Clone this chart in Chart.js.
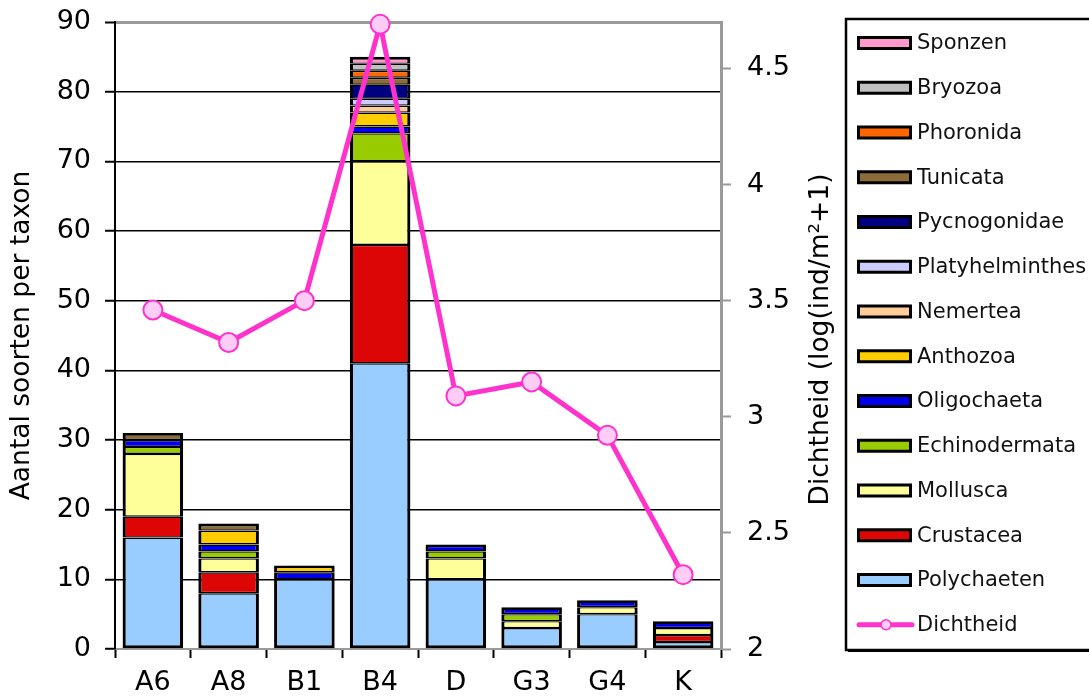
<!DOCTYPE html>
<html>
<head>
<meta charset="utf-8">
<script src="https://cdn.jsdelivr.net/npm/chart.js@4"></script>
<style>
  html, body { margin: 0; padding: 0; background: #fff; overflow: hidden; }
  #wrap { position: relative; width: 1089px; height: 698px; }
</style>
</head>
<body>
<div id="wrap"><canvas id="c"></canvas></div>
<script>
// Stations along the x axis
const stations = ['A6', 'A8', 'B1', 'B4', 'D', 'G3', 'G4', 'K'];

// Number of species per taxon and station (stacked bottom to top)
const polychaeten     = [16, 8, 10, 41, 10, 3, 5, 1];
const crustacea       = [3, 3, 0, 17, 0, 0, 0, 1];
const mollusca        = [9, 2, 0, 12, 3, 1, 1, 1];
const echinodermata   = [1, 1, 0, 4, 1, 1, 0, 0];
const oligochaeta     = [1, 1, 1, 1, 1, 1, 1, 1];
const anthozoa        = [0, 2, 1, 2, 0, 0, 0, 0];
const nemertea        = [0, 0, 0, 1, 0, 0, 0, 0];
const platyhelminthes = [0, 0, 0, 1, 0, 0, 0, 0];
const pycnogonidae    = [0, 0, 0, 2, 0, 0, 0, 0];
const tunicata        = [1, 1, 0, 1, 0, 0, 0, 0];
const phoronida       = [0, 0, 0, 1, 0, 0, 0, 0];
const bryozoa         = [0, 0, 0, 1, 0, 0, 0, 0];
const sponzen         = [0, 0, 0, 1, 0, 0, 0, 0];

// Density, log(ind/m²+1), right axis
const dichtheid = [3.46, 3.32, 3.50, 4.69, 3.09, 3.15, 2.92, 2.32];

const leftTitle = 'Aantal soorten per taxon';
const rightTitle = 'Dichtheid (log(ind/m²+1)';

const FONT = '"DejaVu Sans", Verdana, sans-serif';
const TICK_SIZE = 27;
const TITLE_SIZE = 26.5;

const taxa = [
  ['Polychaeten', polychaeten, '#99CCFF'],
  ['Crustacea', crustacea, '#DD0606'],
  ['Mollusca', mollusca, '#FFFF99'],
  ['Echinodermata', echinodermata, '#99CC00'],
  ['Oligochaeta', oligochaeta, '#0000EE'],
  ['Anthozoa', anthozoa, '#FFCC00'],
  ['Nemertea', nemertea, '#FFCC99'],
  ['Platyhelminthes', platyhelminthes, '#CCCCFF'],
  ['Pycnogonidae', pycnogonidae, '#000080'],
  ['Tunicata', tunicata, '#8C6D3A'],
  ['Phoronida', phoronida, '#FF6600'],
  ['Bryozoa', bryozoa, '#C0C0C0'],
  ['Sponzen', sponzen, '#FF99CC']
];

// Inner separators split between neighbours, thicker outline around each stack
function segmentBorder(ctx) {
  const i = ctx.dataIndex, d = ctx.datasetIndex;
  const ds = ctx.chart.data.datasets;
  let isTop = true;
  for (let k = d + 1; k < ds.length; k++) {
    if (ds[k].type === 'bar' && ds[k].data[i] > 0) { isTop = false; break; }
  }
  return { top: isTop ? 2.8 : 1.4, bottom: d === 0 ? 3 : 1.4, left: 3.2, right: 3.2 };
}

const datasets = taxa.map(([label, values, color]) => ({
  type: 'bar',
  label,
  data: values,
  backgroundColor: color,
  borderColor: '#000',
  borderWidth: segmentBorder,
  borderSkipped: false,
  yAxisID: 'y',
  order: 1,
  categoryPercentage: 0.8,
  barPercentage: 1.0
}));

datasets.push({
  type: 'line',
  label: 'Dichtheid',
  data: dichtheid,
  yAxisID: 'y1',
  borderColor: '#FF33CC',
  borderWidth: 5,
  pointRadius: 9.5,
  pointBackgroundColor: '#FFCCF5',
  pointBorderColor: '#FF33CC',
  pointBorderWidth: 2,
  tension: 0,
  clip: false,
  order: 0
});

// Boxed legend on the right, top item first
const boxedLegend = {
  id: 'boxedLegend',
  afterDraw(chart) {
    const ctx = chart.ctx;
    const x0 = 846, y0 = 19, y1 = 650;
    ctx.save();
    ctx.fillStyle = '#000';
    ctx.fillRect(x0 + 2, y1 - 1, 1089, 3);
    ctx.strokeStyle = '#000';
    ctx.lineWidth = 2.5;
    ctx.strokeRect(x0, y0, 1089, y1 - y0);
    const bars = chart.data.datasets.filter(d => d.type === 'bar').slice().reverse();
    const line = chart.data.datasets.find(d => d.type === 'line');
    const items = bars.concat([line]);
    const step = 44.75;
    ctx.font = '21px ' + FONT;
    ctx.textBaseline = 'middle';
    ctx.textAlign = 'left';
    items.forEach((ds, n) => {
      const cy = 43 + n * step;
      if (ds.type === 'bar') {
        ctx.fillStyle = '#000';
        ctx.fillRect(857, cy - 7, 55, 14);
        ctx.fillStyle = ds.backgroundColor;
        ctx.fillRect(860, cy - 4, 49, 8);
      } else {
        ctx.strokeStyle = ds.borderColor;
        ctx.lineWidth = 5;
        ctx.lineCap = 'round';
        ctx.beginPath();
        ctx.moveTo(859, cy);
        ctx.lineTo(912, cy);
        ctx.stroke();
        ctx.beginPath();
        ctx.arc(886, cy, 5, 0, Math.PI * 2);
        ctx.fillStyle = ds.pointBackgroundColor;
        ctx.fill();
        ctx.lineWidth = 1.5;
        ctx.stroke();
      }
      ctx.fillStyle = '#111';
      ctx.fillText(ds.label, 917, cy + 1);
    });
    ctx.restore();
  }
};

// Right axis title reading bottom to top
const rightAxisTitle = {
  id: 'rightAxisTitle',
  afterDraw(chart) {
    const ctx = chart.ctx;
    const a = chart.chartArea;
    ctx.save();
    ctx.translate(chart.scales.y1.right - 25, (a.top + a.bottom) / 2 + 4);
    ctx.rotate(-Math.PI / 2);
    ctx.font = TITLE_SIZE + 'px ' + FONT;
    ctx.fillStyle = '#000';
    ctx.textAlign = 'center';
    ctx.textBaseline = 'middle';
    ctx.fillText(rightTitle, 0, 0);
    ctx.restore();
  }
};

// Keep the plot area independent of label overhang
function noOverhang(s) {
  s.paddingTop = 0; s.paddingBottom = 0; s.paddingLeft = 0; s.paddingRight = 0;
}

new Chart(document.getElementById('c'), {
  data: { labels: stations, datasets },
  options: {
    responsive: true,
    maintainAspectRatio: false,
    animation: false,
    events: [],
    layout: { padding: { left: 0, top: 22, right: 243, bottom: 0 } },
    plugins: { legend: { display: false }, tooltip: { enabled: false } },
    scales: {
      x: {
        stacked: true,
        afterFit(s) { s.height = 49; noOverhang(s); },
        grid: {
          offset: true,
          drawOnChartArea: false,
          drawTicks: true,
          tickLength: 9,
          tickColor: '#000',
          tickWidth: 2
        },
        border: { display: true, color: '#9a9a9a', width: 2 },
        ticks: { color: '#000', font: { family: FONT, size: TICK_SIZE }, padding: 9 }
      },
      y: {
        stacked: true,
        position: 'left',
        min: 0,
        max: 90,
        afterFit(s) { s.width = 115; noOverhang(s); },
        ticks: { stepSize: 10, color: '#000', font: { family: FONT, size: TICK_SIZE }, padding: 14 },
        grid: {
          color: c => (c.tick && (c.tick.value === 90 || c.tick.value === 0)) ? '#9a9a9a' : '#000',
          lineWidth: c => (c.tick && c.tick.value === 90) ? 3 : 1.5,
          tickColor: '#000',
          tickLength: 10,
          tickWidth: 2
        },
        border: { display: true, color: '#000', width: 2 },
        title: {
          display: true,
          text: leftTitle,
          color: '#000',
          font: { family: FONT, size: TITLE_SIZE },
          padding: { top: 6, bottom: 0 }
        }
      },
      y1: {
        position: 'right',
        min: 2,
        max: 4.7,
        afterFit(s) { s.width = 125; noOverhang(s); },
        afterBuildTicks(s) { s.ticks = s.ticks.filter(t => t.value <= 4.5 + 1e-9); },
        ticks: {
          stepSize: 0.5,
          color: '#000',
          font: { family: FONT, size: TICK_SIZE },
          padding: 16,
          callback: v => String(v)
        },
        grid: {
          drawOnChartArea: false,
          drawTicks: true,
          tickLength: 10,
          tickColor: '#9a9a9a',
          tickWidth: 2
        },
        border: { display: true, color: '#9a9a9a', width: 3 }
      }
    }
  },
  plugins: [boxedLegend, rightAxisTitle]
});
</script>
</body>
</html>
